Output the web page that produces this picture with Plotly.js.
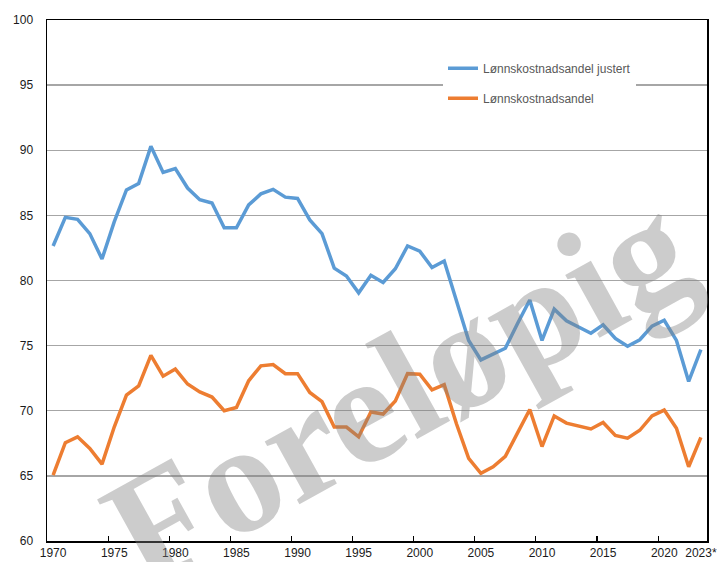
<!DOCTYPE html>
<html>
<head>
<meta charset="utf-8">
<script src="https://cdn.plot.ly/plotly-3.0.1.min.js"></script>
<style>html,body{margin:0;padding:0;background:#fff;}#chart{width:717px;height:562px;}</style>
</head>
<body>
<div id="chart"></div>
<script>
const years = [1970,1971,1972,1973,1974,1975,1976,1977,1978,1979,1980,1981,1982,1983,1984,1985,1986,1987,1988,1989,1990,1991,1992,1993,1994,1995,1996,1997,1998,1999,2000,2001,2002,2003,2004,2005,2006,2007,2008,2009,2010,2011,2012,2013,2014,2015,2016,2017,2018,2019,2020,2021,2022,2023];
const justert = [82.65,84.85,84.7,83.6,81.65,84.5,86.95,87.45,90.3,88.3,88.6,87.1,86.2,85.95,84.05,84.05,85.8,86.65,87.0,86.4,86.3,84.65,83.6,80.95,80.35,79.05,80.4,79.85,80.9,82.65,82.25,81.0,81.5,78.5,75.4,73.9,74.35,74.8,76.7,78.5,75.4,77.8,76.9,76.4,75.95,76.6,75.55,74.95,75.45,76.5,76.95,75.4,72.25,74.7];
const andel = [65.05,67.55,68.0,67.1,65.9,68.75,71.2,71.9,74.25,72.65,73.2,72.05,71.45,71.05,70.0,70.25,72.3,73.45,73.55,72.85,72.85,71.4,70.7,68.75,68.75,68.0,69.9,69.75,70.75,72.85,72.8,71.6,72.0,69.0,66.35,65.2,65.7,66.5,68.3,70.1,67.25,69.6,69.05,68.8,68.6,69.1,68.1,67.9,68.5,69.6,70.05,68.65,65.7,67.95];
const tickYears = [1970,1975,1980,1985,1990,1995,2000,2005,2010,2015,2020,2023];
const tickLabels = ["1970","1975","1980","1985","1990","1995","2000","2005","2010","2015","2020","2023*"];
const tickMarks = [1969.5,1974.5,1979.5,1984.5,1989.5,1994.5,1999.5,2004.5,2009.5,2014.5,2019.5];
const seriesNames = ["Lønnskostnadsandel justert","Lønnskostnadsandel"];
const watermark = "Foreløpig";

const traces = [
  {x: years, y: justert, type:'scatter', mode:'lines', name: seriesNames[0], legendgroup:'a',
   line:{color:'#5B9BD5', width:3.5}},
  {x: years, y: andel, type:'scatter', mode:'lines', name: seriesNames[1], legendgroup:'b',
   line:{color:'#ED7D31', width:3.5}},
  {x: [tickMarks[0]], y:[60], xaxis:'x2', type:'scatter', mode:'markers', marker:{opacity:0}, showlegend:false, hoverinfo:'skip'}
];

const layout = {
  width:717, height:562,
  margin:{l:47, r:10, t:20, b:21},
  paper_bgcolor:'#fff', plot_bgcolor:'#fff',
  font:{family:'"Liberation Sans", Arial, sans-serif', size:12, color:'#1a1a1a'},
  showlegend:true,
  legend:{x:0.6, xanchor:'left', y:0.935, yanchor:'top', bgcolor:'#fff', borderwidth:0,
          font:{size:12, color:'#595959'}, tracegroupgap:11},
  xaxis:{range:[1969.5,2023.5], tickvals:tickYears, ticktext:tickLabels, ticks:'', showgrid:false,
         showline:true, linecolor:'#000', linewidth:1.5, mirror:true, zeroline:false,
         tickfont:{size:12, color:'#1a1a1a'}, fixedrange:true},
  xaxis2:{range:[1969.5,2023.5], overlaying:'x', side:'bottom', tickvals:tickMarks, ticks:'inside',
          ticklen:5, tickwidth:1.2, tickcolor:'#000', showticklabels:false, showgrid:false,
          showline:false, zeroline:false},
  yaxis:{range:[60,100], dtick:5, tick0:60, ticks:'', showgrid:true, gridcolor:'#a6a6a6', gridwidth:1.3,
         showline:true, linecolor:'#000', linewidth:1.5, mirror:true, zeroline:false,
         ticklabelstandoff:10, tickfont:{size:12, color:'#1a1a1a'}},
  shapes:[{type:'rect', xref:'paper', yref:'paper', x0:0.603, x1:0.933, y0:0.818, y1:0.942,
           fillcolor:'#fff', line:{width:0}, layer:'between'}],
  annotations:[{
    text: watermark, xref:'paper', yref:'paper', x:0.532, y:0.29, xanchor:'center', yanchor:'middle',
    showarrow:false, textangle:-29,
    font:{family:'"Liberation Serif", "Times New Roman", serif', size:156, weight:'bold', color:'rgba(128,128,128,0.4)'}
  }]
};

Plotly.newPlot('chart', traces, layout, {staticPlot:true});
</script>
</body>
</html>
